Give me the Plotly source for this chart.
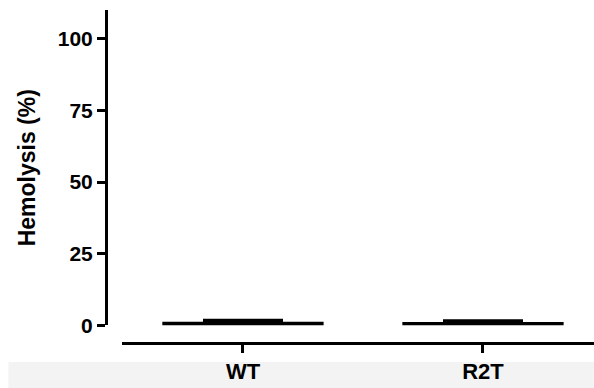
import plotly.graph_objects as go

categories = ["WT", "R2T"]
hemolysis_mean = [1.3, 1.2]
hemolysis_sd = [0.6, 0.5]
y_ticks = [0, 25, 50, 75, 100]

fig = go.Figure()
fig.add_trace(go.Bar(
    x=[0, 1],
    y=hemolysis_mean,
    width=0.672,
    marker=dict(color="black", line=dict(width=0)),
    error_y=dict(type="data", array=hemolysis_sd, symmetric=False, arrayminus=[0, 0],
                 color="black", thickness=2.5, width=40),
))

font_family = "Liberation Sans, Arial, sans-serif"

fig.update_layout(
    width=594, height=388,
    margin=dict(l=106, r=0, t=10, b=45),
    paper_bgcolor="white", plot_bgcolor="white",
    showlegend=False,
    font=dict(family=font_family, color="black"),
    xaxis=dict(
        domain=[0.0328, 1], anchor="free", position=0,
        range=[-0.504, 1.4625],
        tickmode="array", tickvals=[0, 1], ticktext=categories,
        showline=True, linecolor="black", linewidth=3,
        ticks="outside", ticklen=8, tickwidth=3, tickcolor="black",
        tickfont=dict(size=22, weight="bold", family=font_family),
        showgrid=False, zeroline=False,
    ),
    yaxis=dict(
        domain=[0.0526, 1], anchor="free", position=0,
        range=[0, 110],
        tickmode="array", tickvals=y_ticks, ticktext=[str(v) for v in y_ticks],
        showline=True, linecolor="black", linewidth=3,
        ticks="outside", ticklen=8, tickwidth=3, tickcolor="black",
        tickfont=dict(size=21, weight="bold", family=font_family),
        title=dict(text="Hemolysis (%)", standoff=14,
                   font=dict(size=23, family=font_family, weight="bold")),
        showgrid=False, zeroline=False,
    ),
    shapes=[dict(type="rect", xref="paper", yref="paper", x0=-0.2, x1=1.0,
                 y0=-0.057, y1=-0.14, fillcolor="#f3f3f3", line=dict(width=0),
                 layer="below")],
)

fig.write_html("out.html")
